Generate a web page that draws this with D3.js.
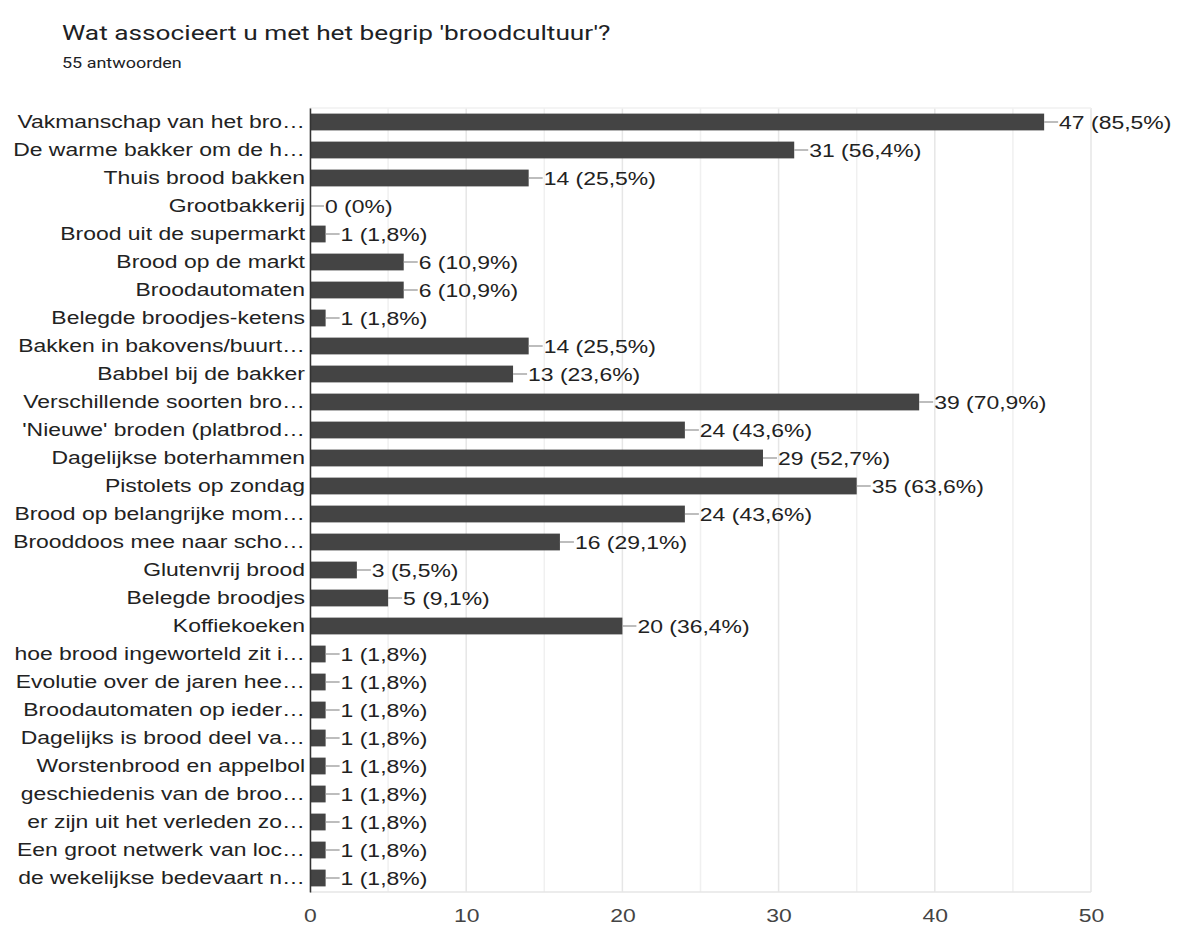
<!doctype html>
<html>
<head>
<meta charset="utf-8">
<title>broodcultuur</title>
<style>
  body { margin: 0; background: #fff; }
  .title { font-family: Roboto, Arial, sans-serif; }
  .chart text { font-family: "Liberation Sans", Arial, sans-serif; }
</style>
</head>
<body>
<div id="chart"></div>
<script src="https://cdn.jsdelivr.net/npm/d3@7"></script>
<script>
// antwoorden
var categories = [
  "Vakmanschap van het bro…", "De warme bakker om de h…", "Thuis brood bakken", "Grootbakkerij",
  "Brood uit de supermarkt", "Brood op de markt", "Broodautomaten", "Belegde broodjes-ketens",
  "Bakken in bakovens/buurt…", "Babbel bij de bakker", "Verschillende soorten bro…",
  "'Nieuwe' broden (platbrod…", "Dagelijkse boterhammen", "Pistolets op zondag",
  "Brood op belangrijke mom…", "Brooddoos mee naar scho…", "Glutenvrij brood", "Belegde broodjes",
  "Koffiekoeken", "hoe brood ingeworteld zit i…", "Evolutie over de jaren hee…",
  "Broodautomaten op ieder…", "Dagelijks is brood deel va…", "Worstenbrood en appelbol",
  "geschiedenis van de broo…", "er zijn uit het verleden zo…", "Een groot netwerk van loc…",
  "de wekelijkse bedevaart n…"
];
var counts = [47, 31, 14, 0, 1, 6, 6, 1, 14, 13, 39, 24, 29, 35, 24, 16, 3, 5, 20, 1, 1, 1, 1, 1, 1, 1, 1, 1];
var percents = ["85,5%", "56,4%", "25,5%", "0%", "1,8%", "10,9%", "10,9%", "1,8%", "25,5%", "23,6%",
  "70,9%", "43,6%", "52,7%", "63,6%", "43,6%", "29,1%", "5,5%", "9,1%", "36,4%", "1,8%", "1,8%",
  "1,8%", "1,8%", "1,8%", "1,8%", "1,8%", "1,8%", "1,8%"];
var xTicks = [0, 10, 20, 30, 40, 50];

var width = 1180, height = 929;
var margin = {top: 108, right: 89, bottom: 37, left: 310};
var sx = 1.24; // de tekst in het origineel is breder uitgerekt

// tekst horizontaal uitrekken rond zijn eigen x
function stretch(sel, s) {
  sel.each(function() {
    var t = d3.select(this);
    var x0 = +t.attr("x") || 0;
    t.attr("x", x0 / s).attr("transform", "scale(" + s + ",1)");
  });
}

var svg = d3.select("#chart").append("svg")
  .attr("width", width).attr("height", height);

// titel
svg.append("text").attr("class", "title")
  .attr("x", 62).attr("y", 40)
  .attr("font-size", "21px").attr("fill", "#202124")
  .text("Wat associeert u met het begrip 'broodcultuur'?")
  .call(stretch, 1.25);
svg.append("text").attr("class", "title")
  .attr("x", 62).attr("y", 68)
  .attr("font-size", "14.5px").attr("fill", "#202124")
  .text("55 antwoorden")
  .call(stretch, 1.24);

var g = svg.append("g").attr("class", "chart")
  .attr("transform", "translate(" + margin.left + "," + margin.top + ")");

var w = width - margin.left - margin.right;
var h = height - margin.top - margin.bottom;

var x = d3.scaleLinear().domain([0, 50]).range([0, w]);
var y = d3.scaleBand().domain(categories).range([0, h]).paddingInner(0.4).paddingOuter(0.2);

// rasterlijnen
g.selectAll(".grid")
  .data(d3.range(0, 55, 5))
  .enter().append("line")
  .attr("x1", function(d) { return x(d); })
  .attr("x2", function(d) { return x(d); })
  .attr("y1", 0).attr("y2", h)
  .attr("stroke", function(d) { return d % 10 === 0 ? "#e6e6e6" : "#f0f0f0"; })
  .attr("stroke-width", 1.5);
g.append("line").attr("x1", 0).attr("x2", w).attr("y1", 0).attr("y2", 0)
  .attr("stroke", "#f0f0f0").attr("stroke-width", 1.5);
g.append("line").attr("x1", 0).attr("x2", w).attr("y1", h).attr("y2", h)
  .attr("stroke", "#e6e6e6").attr("stroke-width", 1.5);

// balken
g.selectAll(".bar")
  .data(counts)
  .enter().append("rect")
  .attr("x", x(0))
  .attr("y", function(d, i) { return y(categories[i]); })
  .attr("width", function(d) { return x(d) - x(0); })
  .attr("height", y.bandwidth())
  .attr("fill", "#444444");

// streepjes naar de waarden
g.selectAll(".lead")
  .data(counts)
  .enter().append("line")
  .attr("x1", function(d) { return x(d); })
  .attr("x2", function(d) { return x(d) + 14; })
  .attr("y1", function(d, i) { return y(categories[i]) + y.bandwidth() / 2; })
  .attr("y2", function(d, i) { return y(categories[i]) + y.bandwidth() / 2; })
  .attr("stroke", "#999").attr("stroke-width", 1.3);

g.selectAll(".val")
  .data(counts)
  .enter().append("text")
  .attr("x", function(d) { return x(d) + 15; })
  .attr("y", function(d, i) { return y(categories[i]) + y.bandwidth() / 2; })
  .attr("dy", "0.36em")
  .attr("font-size", "18.5px").attr("fill", "#222")
  .text(function(d, i) { return d + " (" + percents[i] + ")"; })
  .call(stretch, sx);

// y-as
var yAxis = g.append("g").call(d3.axisLeft(y).tickSize(0).tickPadding(5));
yAxis.select(".domain").attr("stroke", "#333").attr("stroke-width", 1.5);
yAxis.selectAll("text").attr("font-size", "18.5px").attr("fill", "#222").call(stretch, sx);

// x-as
var xAxis = g.append("g").attr("transform", "translate(0," + h + ")")
  .call(d3.axisBottom(x).tickValues(xTicks).tickSize(0).tickPadding(17));
xAxis.select(".domain").remove();
xAxis.selectAll("text").attr("font-size", "18.5px").attr("fill", "#444").call(stretch, sx);
</script>
</body>
</html>
